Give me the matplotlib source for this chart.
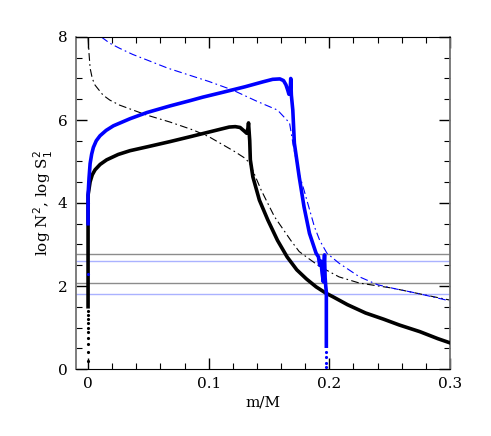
import matplotlib.pyplot as plt
from matplotlib.ticker import MultipleLocator

# N^2 profile, model 1 (black, solid)
n2_a_m = [0.0, 0.0, 0.0, 0.0017, 0.0035, 0.0058, 0.01, 0.0154, 0.025, 0.0347, 0.05,
          0.068, 0.085, 0.0975, 0.11, 0.117, 0.122, 0.126, 0.13, 0.1315, 0.1325,
          0.133, 0.134, 0.1345, 0.1366, 0.142, 0.149, 0.157, 0.165, 0.173, 0.181,
          0.189, 0.197, 0.203, 0.215, 0.23, 0.245, 0.258, 0.275, 0.29, 0.3]
n2_a = [1.5, 3.9, 4.19, 4.51, 4.68, 4.8, 4.93, 5.04, 5.17, 5.26, 5.36,
        5.48, 5.6, 5.69, 5.78, 5.83, 5.84, 5.82, 5.72, 5.68, 5.8,
        5.93, 5.5, 5.04, 4.63, 4.07, 3.59, 3.1, 2.7, 2.39, 2.17,
        1.98, 1.83, 1.74, 1.55, 1.35, 1.2, 1.06, 0.9, 0.73, 0.63]
n2_a_dots = [0.2, 0.4, 0.6, 0.75, 0.9, 1.0, 1.1, 1.2, 1.3, 1.4]

# N^2 profile, model 2 (blue, solid)
n2_b_m = [0.0, 0.0, 0.0008, 0.0017, 0.003, 0.0044, 0.0068, 0.0099, 0.015, 0.021,
          0.0347, 0.0488, 0.068, 0.085, 0.095, 0.112, 0.13, 0.145, 0.153, 0.159,
          0.162, 0.164, 0.1655, 0.1665, 0.1675, 0.168, 0.1685, 0.1697, 0.171, 0.175,
          0.179, 0.1835, 0.189, 0.191, 0.192, 0.193, 0.194, 0.195, 0.1955, 0.196,
          0.1965, 0.197, 0.1975, 0.1975, 0.1975]
n2_b = [3.5, 4.19, 4.6, 4.95, 5.18, 5.34, 5.5, 5.62, 5.75, 5.86,
        6.03, 6.18, 6.34, 6.47, 6.55, 6.67, 6.8, 6.92, 6.98, 6.99,
        6.95, 6.85, 6.72, 6.62, 6.7, 7.0, 6.6, 6.24, 5.44, 4.63,
        3.91, 3.27, 2.79, 2.7, 2.5, 2.6, 2.31, 2.1, 2.5, 2.75,
        2.2, 2.0, 1.85, 1.4, 0.55]
n2_b_dots_m = [0.0, 0.0, 0.0, 0.1975, 0.1975, 0.1975, 0.1975]
n2_b_dots = [2.3, 3.6, 4.0, 0.05, 0.15, 0.28, 0.4]

# S1^2 profile, model 1 (black, dash-dot)
s1_a_m = [0.0, 0.0008, 0.0017, 0.0035, 0.0058, 0.0124, 0.018, 0.026, 0.0485, 0.068,
          0.087, 0.1, 0.1215, 0.13, 0.134, 0.1435, 0.1545, 0.168, 0.175, 0.181,
          0.192, 0.208, 0.225, 0.252, 0.275, 0.3]
s1_a = [8.0, 7.6, 7.25, 7.0, 6.84, 6.6, 6.48, 6.36, 6.12, 5.95,
        5.76, 5.6, 5.24, 5.08, 4.96, 4.31, 3.67, 3.1, 2.83, 2.7,
        2.47, 2.22, 2.07, 1.95, 1.81, 1.66]

# S1^2 profile, model 2 (blue, dash-dot)
s1_b_m = [0.011, 0.018, 0.026, 0.037, 0.0485, 0.066, 0.084, 0.1, 0.12, 0.14,
          0.157, 0.167, 0.17, 0.174, 0.179, 0.1876, 0.192, 0.198, 0.208, 0.225,
          0.24, 0.255, 0.272, 0.3]
s1_b = [8.0, 7.85, 7.73, 7.58, 7.45, 7.25, 7.08, 6.93, 6.72, 6.45,
        6.24, 5.93, 5.4, 4.8, 4.31, 3.43, 3.1, 2.79, 2.55, 2.22,
        2.03, 1.93, 1.83, 1.64]

# reference levels
grey_levels = [2.76, 2.07]
blue_levels = [2.60, 1.81]

fig = plt.figure(figsize=(4.91, 4.36), dpi=100)
ax = fig.add_axes([76 / 491, 1 - 369 / 436, 374 / 491, 332 / 436])

for lv in grey_levels:
    ax.axhline(lv, color='0.55', lw=1.0, zorder=1)
for lv in blue_levels:
    ax.axhline(lv, color='#aab2ff', lw=1.0, zorder=1)

dash = (0, (7, 3, 1.5, 3))
ax.plot(s1_a_m, s1_a, color='black', lw=0.8, ls=dash, zorder=2)
ax.plot(s1_b_m, s1_b, color='blue', lw=0.8, ls=dash, zorder=2)

ax.plot(n2_a_m, n2_a, color='black', lw=2.6, zorder=3, solid_joinstyle='round')
ax.plot([0.0] * len(n2_a_dots), n2_a_dots, 'k.', ms=2.5, zorder=3)
ax.plot(n2_b_m, n2_b, color='blue', lw=2.6, zorder=4, solid_joinstyle='round')
ax.plot(n2_b_dots_m, n2_b_dots, '.', color='blue', ms=2.5, zorder=4)

ax.set_xlim(-0.01, 0.3)
ax.set_ylim(0, 8)
ax.xaxis.set_minor_locator(MultipleLocator(0.02))
ax.yaxis.set_minor_locator(MultipleLocator(0.5))
ax.set_xticks([0, 0.1, 0.2, 0.3])
ax.set_xticklabels(['0', '0.1', '0.2', '0.3'], family='DejaVu Serif')
ax.set_yticks([0, 2, 4, 6, 8])
ax.set_yticklabels(['0', '2', '4', '6', '8'], family='DejaVu Serif')
ax.tick_params(which='both', direction='in', top=True, right=True, labelsize=11, pad=6)
ax.tick_params(which='major', length=8, width=1)
ax.tick_params(which='minor', length=4, width=0.8)
for side in ['left', 'right']:
    ax.spines[side].set_color('0.45')
    ax.spines[side].set_linewidth(1.3)

ax.set_xlabel('m/M', family='DejaVu Serif', fontsize=11, labelpad=3)
ax.set_ylabel(r'log N$^2$, log S$_1^2$', family='DejaVu Serif', fontsize=11, labelpad=2)

fig.savefig('out.png', dpi=100)
